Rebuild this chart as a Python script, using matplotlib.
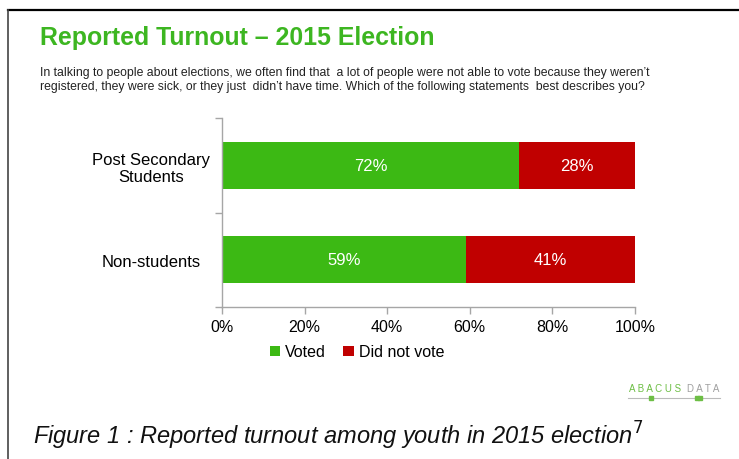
import matplotlib.pyplot as plt
from matplotlib.lines import Line2D

categories = ["Non-students", "Post Secondary\nStudents"]
voted = [59, 72]
did_not_vote = [41, 28]
x_ticks = [0, 20, 40, 60, 80, 100]

GREEN = "#3CB914"
RED = "#C00000"
TITLE_GREEN = "#3DB621"
AXIS_GRAY = "#A6A6A6"

plt.rcParams["font.family"] = ["Liberation Sans", "DejaVu Sans"]

fig = plt.figure(figsize=(7.39, 4.6), dpi=100)
W, H = 739, 460


def fx(px):
    return px / W


def fy(py):
    return 1 - py / H


# frame lines (top and left)
fig.add_artist(Line2D([fx(8), fx(739)], [fy(10.5), fy(10.5)], color="black", lw=1.6))
fig.add_artist(Line2D([fx(8), fx(8)], [fy(10.5), fy(460)], color="#444444", lw=1.2))

fig.text(fx(40), fy(38), "Reported Turnout \u2013 2015 Election", color=TITLE_GREEN,
         fontsize=17.9, fontweight="bold", va="center", ha="left")
fig.text(fx(40), fy(80),
         "In talking to people about elections, we often find that  a lot of people were not able to vote because they weren\u2019t\n"
         "registered, they were sick, or they just  didn\u2019t have time. Which of the following statements  best describes you?",
         fontsize=8.8, va="center", ha="left", color="#222222", linespacing=1.3)

ax = fig.add_axes([fx(222), fy(308), fx(635) - fx(222), fy(119) - fy(308)])
y = range(len(categories))
ax.barh(y, voted, height=0.5, color=GREEN, label="Voted")
ax.barh(y, did_not_vote, left=voted, height=0.5, color=RED, label="Did not vote")

for i in y:
    ax.text(voted[i] / 2, i, f"{voted[i]}%", color="white", ha="center", va="center", fontsize=12)
    ax.text(voted[i] + did_not_vote[i] / 2, i, f"{did_not_vote[i]}%", color="white",
            ha="center", va="center", fontsize=12)

ax.set_xlim(0, 100)
ax.set_ylim(-0.5, 1.5)
ax.set_xticks(x_ticks)
ax.set_xticklabels([f"{t}%" for t in x_ticks], fontsize=11.5)
ax.set_yticks([-0.5, 0.5, 1.5])
ax.set_yticklabels([])
ax.set_yticks(list(y), minor=True)
ax.set_yticklabels(categories, minor=True, fontsize=12, ha="center")
ax.tick_params(axis="y", which="minor", length=0, pad=51)
ax.tick_params(axis="y", which="major", length=5, color=AXIS_GRAY, width=1)
ax.tick_params(axis="x", length=5, color=AXIS_GRAY, width=1, pad=4)
for side in ["top", "right"]:
    ax.spines[side].set_visible(False)
for side in ["left", "bottom"]:
    ax.spines[side].set_color(AXIS_GRAY)
    ax.spines[side].set_linewidth(1)

fig.legend(loc="center", bbox_to_anchor=(fx(357), fy(353)), ncol=2, frameon=False,
           fontsize=11.5, handlelength=0.65, handleheight=0.65, handletextpad=0.3,
           columnspacing=1.1)

# logo
fig.text(fx(655), fy(389), "A B A C U S", color="#6DBE45", fontsize=7, ha="center", va="center")
fig.text(fx(703), fy(389), "D A T A", color="#A0A0A0", fontsize=7, ha="center", va="center")
fig.add_artist(Line2D([fx(628), fx(720)], [fy(399), fy(399)], color="#BBBBBB", lw=0.8))
fig.add_artist(Line2D([fx(651)], [fy(399)], marker="s", ms=2.5, color="#6DBE45", lw=0))
fig.add_artist(Line2D([fx(697), fx(700)], [fy(399), fy(399)], marker="s", ms=2.5, color="#6DBE45", lw=0))

fig.text(fx(33), fy(436), "Figure 1 : Reported turnout among youth in 2015 election$^{7}$",
         fontsize=17, style="italic", va="center", ha="left", color="#111111")

fig.savefig("out.png", dpi=100)
